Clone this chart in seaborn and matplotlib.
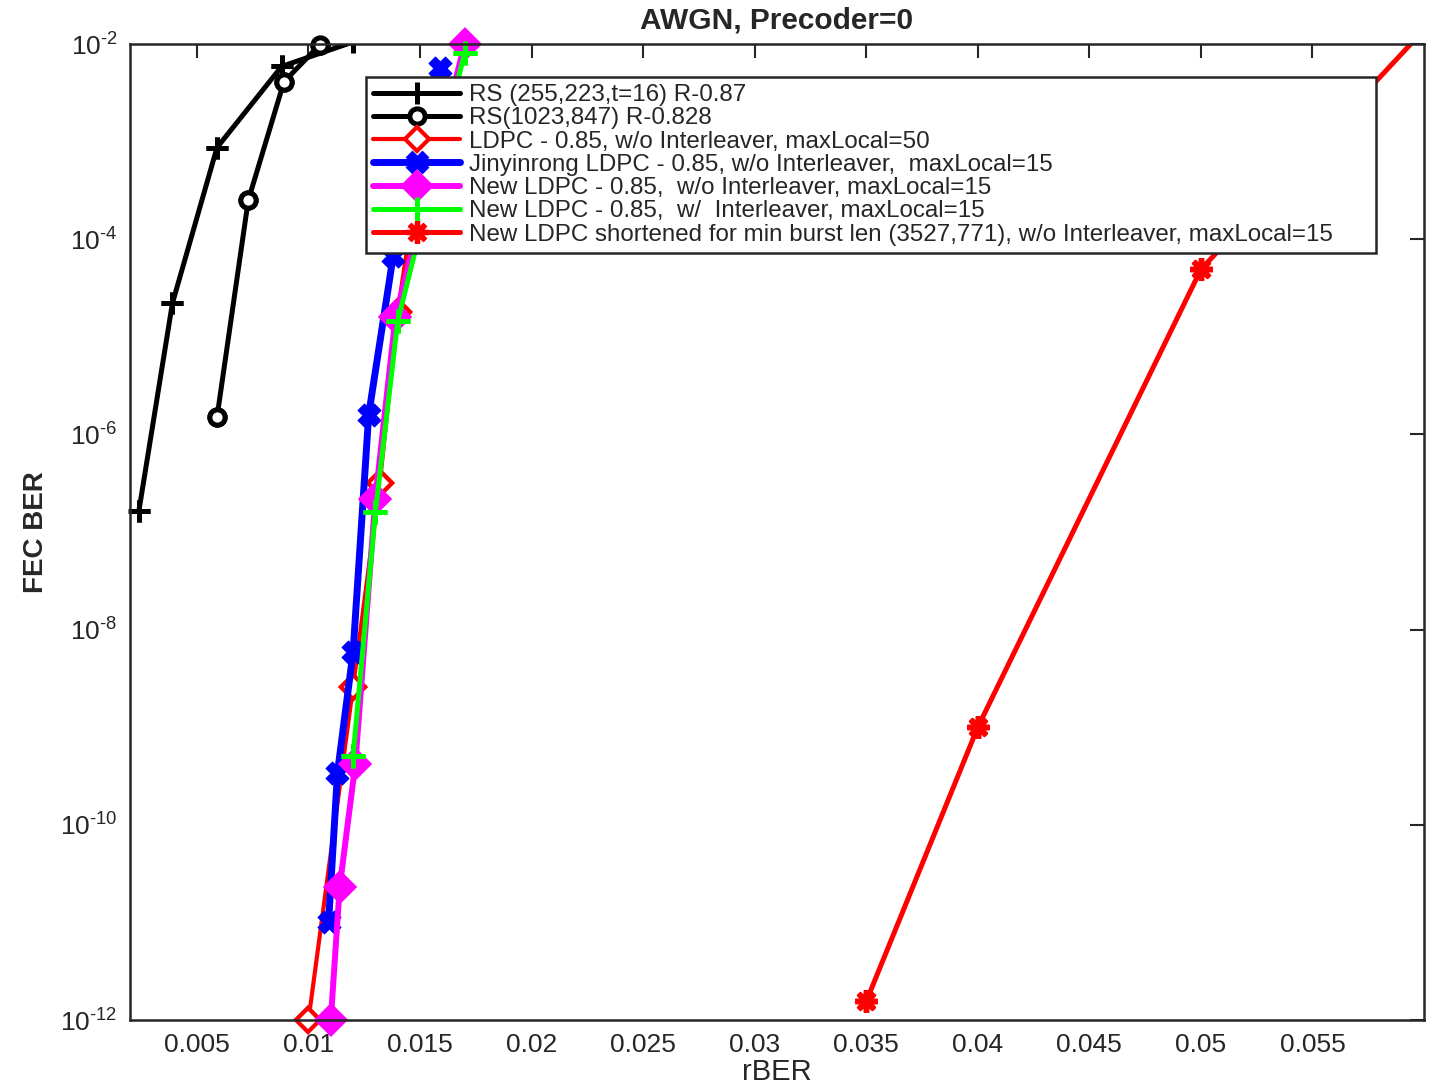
import numpy as np
import pandas as pd
import seaborn as sns
import matplotlib.pyplot as plt
from matplotlib.ticker import FixedLocator, NullLocator

# values (rBER -> FEC BER)
rs255_x = [0.0024, 0.0039, 0.0059, 0.0088, 0.0120]
rs255_y = [1.65e-7, 2.2e-5, 8.7e-4, 5.9e-3, 1.05e-2]
rs1023_x = [0.0059, 0.0073, 0.0089, 0.0105]
rs1023_y = [1.5e-6, 2.5e-4, 4.1e-3, 9.8e-3]
ldpc50_x = [0.0100, 0.0120, 0.0132, 0.0140, 0.0150]
ldpc50_y = [1.0e-12, 2.6e-9, 3.2e-7, 1.8e-5, 6.0e-4]
jyr_x = [0.0109, 0.0113, 0.0120, 0.0127, 0.0138, 0.0159]
jyr_y = [1.0e-11, 3.4e-10, 5.9e-9, 1.6e-6, 6.8e-5, 5.7e-3]
new_x = [0.0110, 0.0114, 0.0121, 0.0130, 0.0139, 0.0170]
new_y = [1.0e-12, 2.3e-11, 4.2e-10, 2.2e-7, 1.6e-5, 1.0e-2]
newil_x = [0.0120, 0.0130, 0.0140, 0.0170]
newil_y = [5.1e-10, 1.6e-7, 1.45e-5, 8.1e-3]
short_x = [0.035, 0.040, 0.050, 0.060]
short_y = [1.55e-12, 1.0e-9, 4.9e-5, 1.4e-2]

labels = [
    'RS (255,223,t=16) R-0.87',
    'RS(1023,847) R-0.828',
    'LDPC - 0.85, w/o Interleaver, maxLocal=50',
    'Jinyinrong LDPC - 0.85, w/o Interleaver,  maxLocal=15',
    'New LDPC - 0.85,  w/o Interleaver, maxLocal=15',
    'New LDPC - 0.85,  w/  Interleaver, maxLocal=15',
    'New LDPC shortened for min burst len (3527,771), w/o Interleaver, maxLocal=15',
]
xs = [rs255_x, rs1023_x, ldpc50_x, jyr_x, new_x, newil_x, short_x]
ys = [rs255_y, rs1023_y, ldpc50_y, jyr_y, new_y, newil_y, short_y]

xtick_vals = [0.005, 0.01, 0.015, 0.02, 0.025, 0.03, 0.035, 0.04, 0.045, 0.05, 0.055]
xtick_labels = ['0.005', '0.01', '0.015', '0.02', '0.025', '0.03', '0.035',
                '0.04', '0.045', '0.05', '0.055']
ytick_exp = [-12, -10, -8, -6, -4, -2]

# line / marker style for each curve (matlab look)
styles = [
    dict(color='k', marker='+', markersize=16, markeredgewidth=3.6, linewidth=3.6,
         markerfacecolor='k', markeredgecolor='k'),
    dict(color='k', marker='o', markersize=11, markeredgewidth=3.6, linewidth=3.6,
         markerfacecolor='white', markeredgecolor='k'),
    dict(color='#ff0000', marker='D', markersize=12, markeredgewidth=3.0, linewidth=3.0,
         markerfacecolor='white', markeredgecolor='#ff0000'),
    dict(color='#0000ff', marker='X', markersize=15, markeredgewidth=2.0, linewidth=5.0,
         markerfacecolor='#0000ff', markeredgecolor='#0000ff'),
    dict(color='#ff00ff', marker='D', markersize=14, markeredgewidth=3.0, linewidth=4.3,
         markerfacecolor='#ff00ff', markeredgecolor='#ff00ff'),
    dict(color='#00ff00', marker='+', markersize=17, markeredgewidth=3.6, linewidth=3.6,
         markerfacecolor='#00ff00', markeredgecolor='#00ff00'),
    dict(color='#ff0000', marker=(8, 2, 0), markersize=16, markeredgewidth=3.8, linewidth=3.6,
         markerfacecolor='#ff0000', markeredgecolor='#ff0000'),
]

sns.set_style('white')
plt.rcParams['font.family'] = ['Liberation Sans', 'DejaVu Sans']
plt.rcParams['mathtext.fontset'] = 'custom'
plt.rcParams['mathtext.rm'] = 'Liberation Sans'
plt.rcParams['mathtext.default'] = 'regular'

fig = plt.figure(figsize=(14.3, 10.85), dpi=100)
ax = fig.add_axes([0.0909, 0.0599, 0.9049, 0.8995])

xmin, xmax, ymin, ymax = 0.002, 0.06, 1e-12, 1e-2

for x, y, lab, st in zip(xs, ys, labels, styles):
    df = pd.DataFrame({'rBER': x, 'BER': y})
    sns.lineplot(data=df, x='rBER', y='BER', ax=ax, sort=False, estimator=None,
                 label=lab, **st)
    # matlab does not clip markers sitting on the box edge
    inside = df[(df['BER'] <= ymax) & (df['rBER'] <= xmax)]
    mk = dict(st)
    mk['linestyle'] = ''
    sns.lineplot(data=inside, x='rBER', y='BER', ax=ax, sort=False, estimator=None,
                 clip_on=False, legend=False, **mk)

ax.set_yscale('log')
ax.set_xlim(xmin, xmax)
ax.set_ylim(ymin, ymax)
ax.set_xticks(xtick_vals)
ax.set_xticklabels(xtick_labels)
ax.yaxis.set_major_locator(FixedLocator([10.0 ** e for e in ytick_exp]))
ax.set_yticklabels([r'$10^{\text{-}%d}$' % (-e) for e in ytick_exp])
ax.yaxis.set_minor_locator(NullLocator())

edge = '#262626'
for sp in ax.spines.values():
    sp.set_visible(True)
    sp.set_color(edge)
    sp.set_linewidth(1.8)
ax.tick_params(axis='both', which='major', direction='in', length=10, width=1.5,
               top=True, right=True, colors=edge, labelsize=19)
ax.tick_params(axis='x', pad=9)
ax.tick_params(axis='y', pad=9)

ax.set_title('AWGN, Precoder=0', fontsize=21.5, fontweight='bold', pad=11)
ax.set_xlabel('rBER', fontsize=21, labelpad=1)
ax.set_ylabel('FEC BER', fontsize=20, fontweight='bold', labelpad=8)

leg = ax.legend(loc='upper left', bbox_to_anchor=(0.1824, 0.0, 0.7805, 0.9662),
                mode='expand', fontsize=17.4,
                frameon=True, fancybox=False, framealpha=1, edgecolor=edge,
                handlelength=3.6, handletextpad=0.35, labelspacing=0.05,
                borderpad=0.3, borderaxespad=0, numpoints=1)
leg.get_frame().set_linewidth(1.8)

fig.savefig('out.png', dpi=100)
